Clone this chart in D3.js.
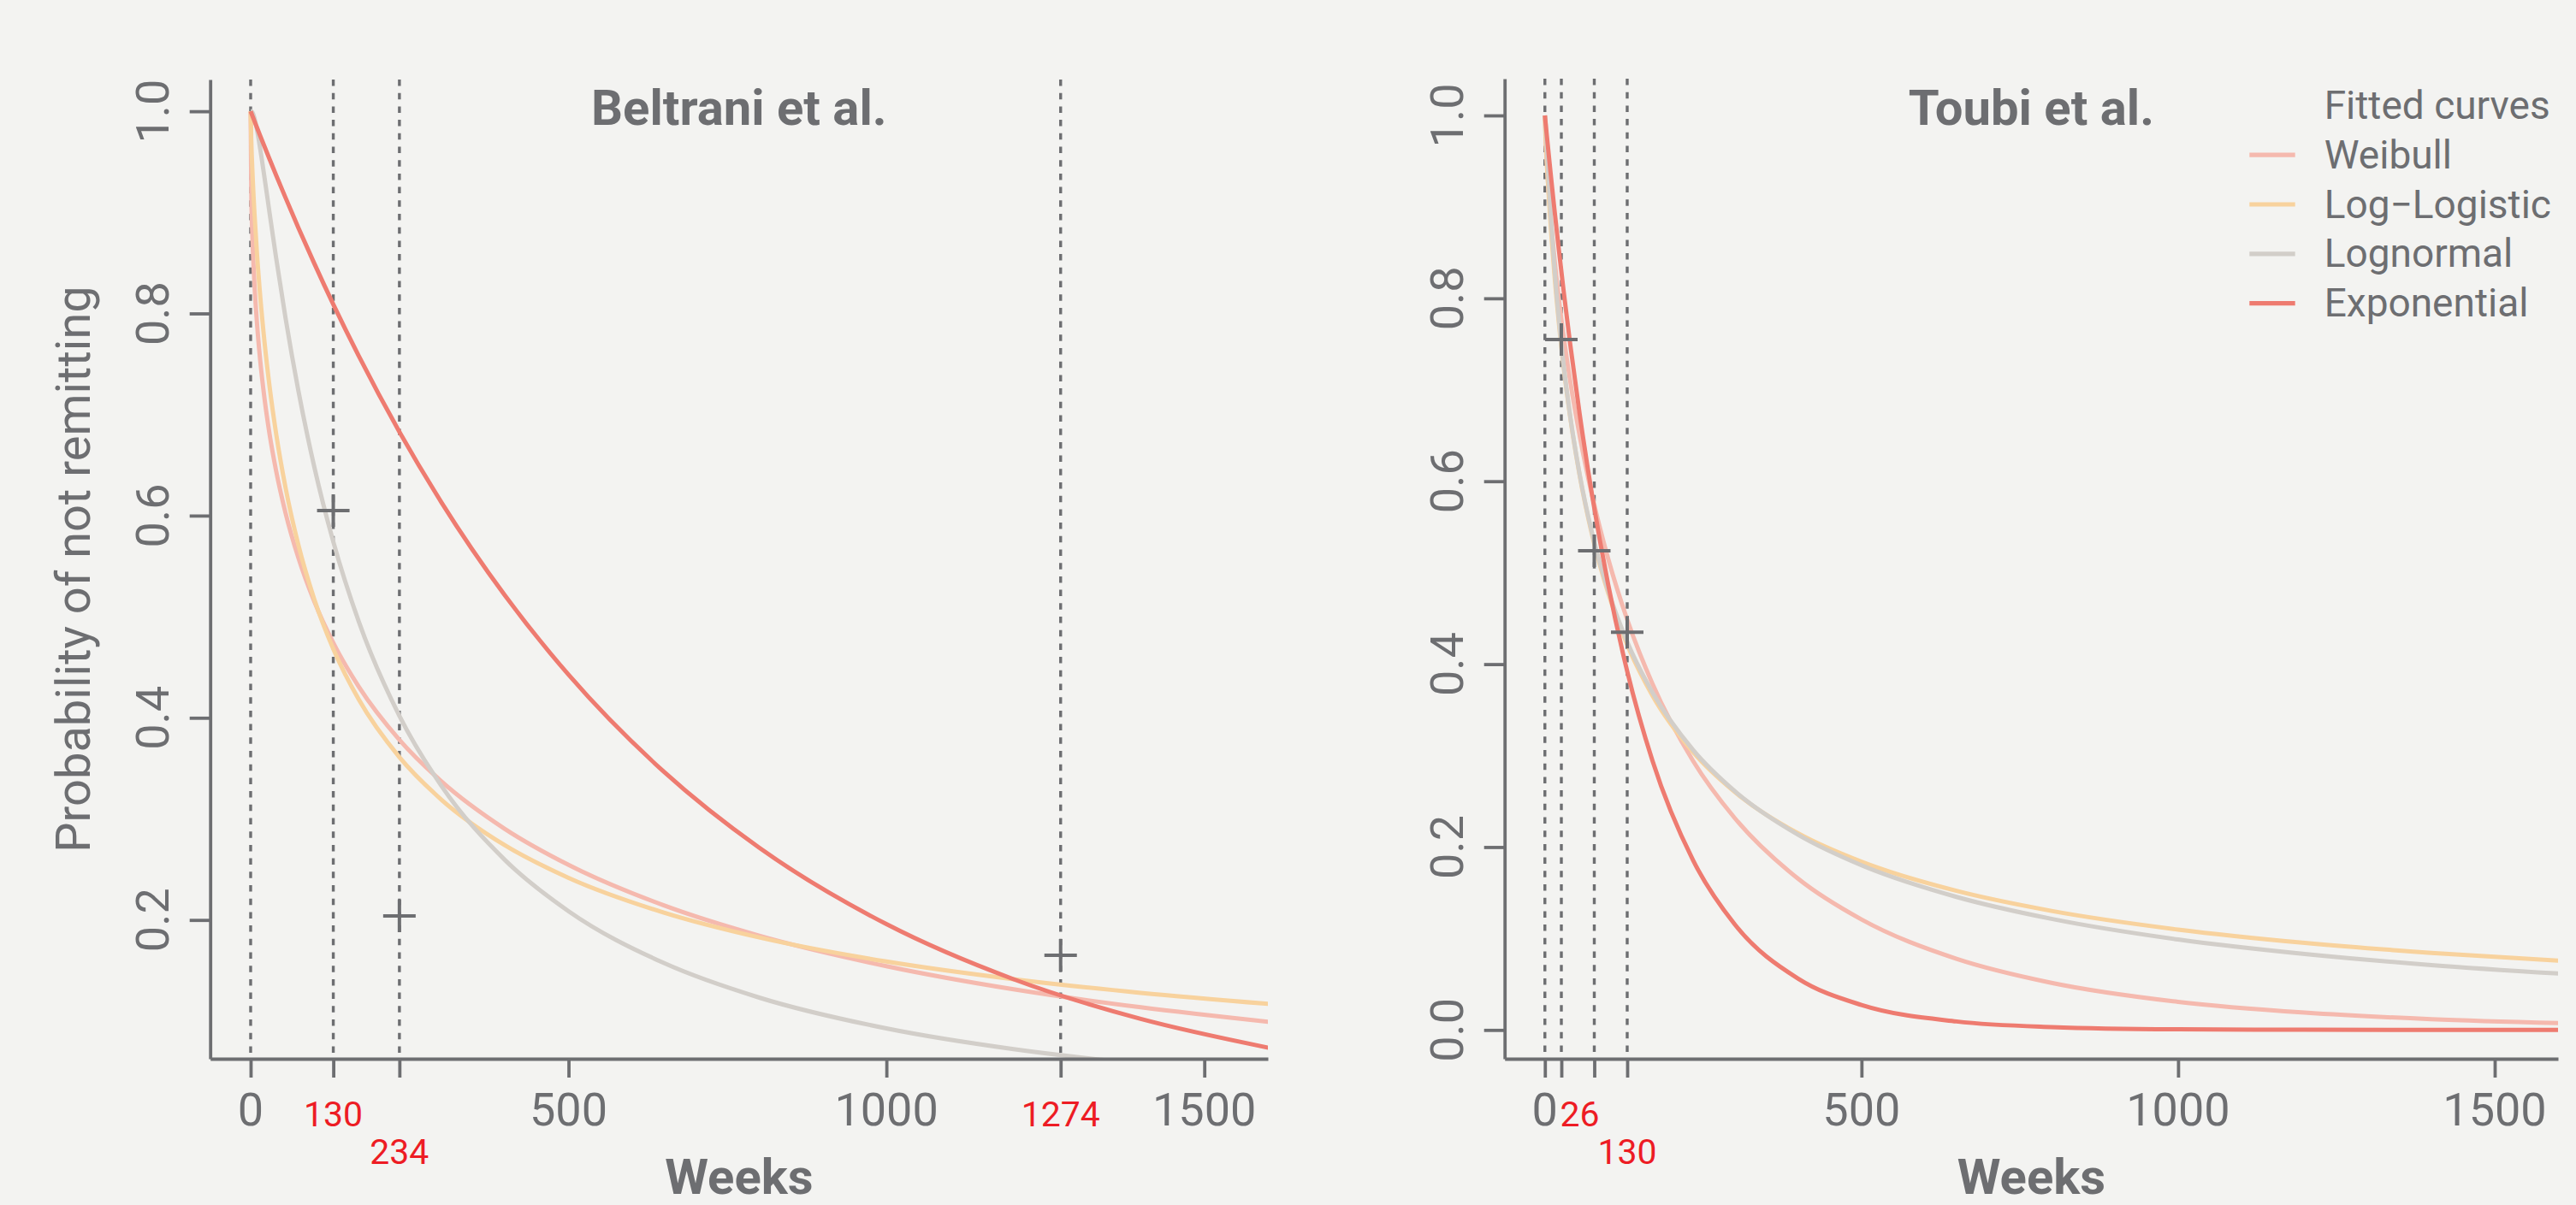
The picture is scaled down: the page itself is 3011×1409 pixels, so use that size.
<!DOCTYPE html>
<html>
<head>
<meta charset="utf-8">
<script src="https://cdn.jsdelivr.net/npm/d3@7/dist/d3.min.js"></script>
<style>
  html, body { margin: 0; padding: 0; background: #f3f3f1; }
  svg { display: block; }
  text { font-family: Roboto, "Noto Sans", sans-serif; }
</style>
</head>
<body>
<svg id="chart" width="3011" height="1409"></svg>
<script>
// ---------------- DATA ----------------
const weeks = [0, 1, 3, 6, 10, 15, 22, 30, 40, 55, 75, 100, 130, 170, 234, 300, 400, 500, 650, 800, 1000, 1200, 1400, 1601];

const seriesNames = ["Weibull", "Log\u2212Logistic", "Lognormal", "Exponential"];
const legendTitle = "Fitted curves";

// Beltrani et al.
const beltraniWeibull     = [1, 0.9199, 0.8721, 0.8294, 0.7903, 0.7539, 0.7149, 0.6798, 0.6446, 0.6024, 0.5584, 0.5152, 0.4741, 0.4308, 0.3782, 0.3371, 0.2900, 0.2545, 0.2144, 0.1844, 0.1543, 0.1314, 0.1136, 0.0992];
const beltraniLogLogistic = [1, 0.9718, 0.9378, 0.8994, 0.8589, 0.8177, 0.7706, 0.7266, 0.6815, 0.6273, 0.5712, 0.5175, 0.4681, 0.4182, 0.3610, 0.3190, 0.2738, 0.2417, 0.2073, 0.1827, 0.1589, 0.1414, 0.1279, 0.1170];
const beltraniLognormal   = [1, 0.9999, 0.9986, 0.9932, 0.9816, 0.9630, 0.9336, 0.8985, 0.8554, 0.7951, 0.7239, 0.6485, 0.5742, 0.4953, 0.4019, 0.3327, 0.2593, 0.2087, 0.1574, 0.1232, 0.0927, 0.0722, 0.0578, 0.0472];
const beltraniExponential = [1, 0.9984, 0.9951, 0.9903, 0.9838, 0.9758, 0.9648, 0.9523, 0.9369, 0.9143, 0.8849, 0.8496, 0.8090, 0.7580, 0.6829, 0.6132, 0.5210, 0.4426, 0.3466, 0.2714, 0.1959, 0.1414, 0.1021, 0.0736];
const beltraniCutoffs = [0, 130, 234, 1274];
const beltraniObservedWeeks  = [130, 234, 1274];
const beltraniObservedValues = [0.605, 0.204, 0.165];
const beltraniRedLabels = [130, 234, 1274];
const beltraniYTicks = [0.2, 0.4, 0.6, 0.8, 1.0];

// Toubi et al.
const toubiWeibull     = [1, 0.9762, 0.9483, 0.9162, 0.8813, 0.8443, 0.8001, 0.7566, 0.7096, 0.6496, 0.5831, 0.5151, 0.4487, 0.3783, 0.2942, 0.2315, 0.1653, 0.1208, 0.0778, 0.0515, 0.0307, 0.0189, 0.0118, 0.0075];
const toubiLogLogistic = [1, 0.9805, 0.9508, 0.9136, 0.8714, 0.8264, 0.7734, 0.7227, 0.6699, 0.6060, 0.5400, 0.4776, 0.4212, 0.3655, 0.3038, 0.2601, 0.2149, 0.1839, 0.1521, 0.1302, 0.1098, 0.0952, 0.0843, 0.0757];
const toubiLognormal   = [1, 0.9924, 0.9668, 0.9283, 0.8827, 0.8341, 0.7777, 0.7250, 0.6711, 0.6071, 0.5419, 0.4802, 0.4244, 0.3689, 0.3062, 0.2610, 0.2134, 0.1801, 0.1455, 0.1215, 0.0989, 0.0830, 0.0710, 0.0617];
const toubiExponential = [1, 0.9928, 0.9786, 0.9577, 0.9305, 0.8976, 0.8535, 0.8057, 0.7498, 0.6730, 0.5827, 0.4868, 0.3922, 0.2941, 0.1855, 0.1153, 0.0561, 0.0273, 0.0093, 0.0032, 0.0007, 0.0002, 0.0000, 0.0000];
const toubiCutoffs = [0, 26, 78, 130];
const toubiObservedWeeks  = [26, 78, 130];
const toubiObservedValues = [0.755, 0.524, 0.435];
const toubiRedLabels = [26, 130];
const toubiYTicks = [0.0, 0.2, 0.4, 0.6, 0.8, 1.0];

const grayTicks = [0, 500, 1000, 1500];
const xTitle = "Weeks";
const yTitle = "Probability of not remitting";

// ---------------- STYLE ----------------
const C_TEXT = "#6d6e71";
const C_RED = "#ed1c24";
const seriesColors = ["#f5b9ae", "#f8d29d", "#d2cec9", "#ee7b70"];

const svg = d3.select("#chart");
svg.append("rect").attr("width", 3011).attr("height", 1409).attr("fill", "#f3f3f1");

const BOTTOM = 1238;
const weekDomain = [-63.6, 1600];

function drawPanel(cfg, idx) {
  const x = d3.scaleLinear().domain(weekDomain).range(cfg.xRange);
  const y = d3.scaleLinear().domain(cfg.yDomain).range([BOTTOM, cfg.yTop]);
  const g = svg.append("g");
  const [x0, x1] = cfg.xRange;

  const clipId = "clip" + idx;
  svg.append("clipPath").attr("id", clipId)
    .append("rect").attr("x", x0).attr("y", cfg.yTop).attr("width", x1 - x0).attr("height", BOTTOM - cfg.yTop);

  // dashed cut-off lines
  g.selectAll(".cut").data(cfg.cutoffs).join("line")
    .attr("x1", d => x(d)).attr("x2", d => x(d))
    .attr("y1", cfg.yTop).attr("y2", BOTTOM)
    .attr("stroke", C_TEXT).attr("stroke-width", 3.4)
    .attr("stroke-dasharray", "7.5,8.2");

  // fitted curves
  const line = d3.line()
    .x((d, i) => x(weeks[i]))
    .y(d => y(d))
    .curve(d3.curveMonotoneX);
  const cg = g.append("g").attr("clip-path", `url(#${clipId})`);
  cfg.series.forEach((s, i) => {
    cg.append("path").attr("d", line(s))
      .attr("fill", "none").attr("stroke", seriesColors[i])
      .attr("stroke-width", 5).attr("stroke-linejoin", "round");
  });

  // axes
  const allTicks = Array.from(new Set([...grayTicks, ...cfg.cutoffs])).sort((a, b) => a - b);
  const xa = g.append("g").attr("transform", `translate(0,${BOTTOM})`)
    .call(d3.axisBottom(x).tickValues(allTicks).tickSize(22).tickSizeOuter(0).tickFormat(""));
  const ya = g.append("g").attr("transform", `translate(${x0},0)`)
    .call(d3.axisLeft(y).tickValues(cfg.yTicks).tickSize(24).tickSizeOuter(0).tickFormat(""));
  [xa, ya].forEach(a => {
    a.selectAll("path.domain").attr("stroke", C_TEXT).attr("stroke-width", 3.8);
    a.selectAll(".tick line").attr("stroke", C_TEXT).attr("stroke-width", 3.8);
  });

  // gray x tick labels
  g.selectAll(".gl").data(grayTicks).join("text")
    .attr("x", d => x(d)).attr("y", BOTTOM + 78)
    .attr("text-anchor", "middle").attr("font-size", 54).attr("fill", C_TEXT)
    .text(d => d);

  // red cut-off labels, staggered when close to the previous one
  let prev = null, row = 0;
  cfg.redLabels.forEach(v => {
    const px = x(v);
    if (prev !== null && Math.abs(px - x(prev)) < 110) row = 1 - row; else row = 0;
    const nearZero = Math.abs(px - x(0)) < 40;
    g.append("text")
      .attr("x", nearZero ? px - 1.5 : px)
      .attr("y", BOTTOM + 79 + row * 43.7)
      .attr("text-anchor", nearZero ? "start" : "middle")
      .attr("font-size", 41).attr("fill", C_RED)
      .text(v);
    prev = v;
  });

  // y tick labels (rotated)
  g.selectAll(".yl").data(cfg.yTicks).join("text")
    .attr("transform", d => `translate(${x0 - 49},${y(d)}) rotate(-90)`)
    .attr("text-anchor", "middle").attr("font-size", 54).attr("fill", C_TEXT)
    .text(d => d3.format(".1f")(d));

  // observed points (+)
  const sz = 19;
  cfg.obsWeeks.forEach((w, i) => {
    const cx = x(w), cy = y(cfg.obsValues[i]);
    g.append("path")
      .attr("d", `M${cx - sz},${cy}H${cx + sz}M${cx},${cy - sz}V${cy + sz}`)
      .attr("stroke", C_TEXT).attr("stroke-width", 4).attr("fill", "none");
  });

  // panel title
  g.append("text").attr("x", (x0 + x1) / 2).attr("y", 146)
    .attr("text-anchor", "middle").attr("font-size", 58).attr("font-weight", "bold")
    .attr("fill", C_TEXT).text(cfg.title);

  // x title
  g.append("text").attr("x", (x0 + x1) / 2).attr("y", 1396)
    .attr("text-anchor", "middle").attr("font-size", 58).attr("font-weight", "bold")
    .attr("fill", C_TEXT).text(xTitle);
}

drawPanel({
  title: "Beltrani et al.",
  xRange: [245.7, 1482],
  yDomain: [0.0627, 1.0314], yTop: 93,
  series: [beltraniWeibull, beltraniLogLogistic, beltraniLognormal, beltraniExponential],
  cutoffs: beltraniCutoffs, redLabels: beltraniRedLabels,
  obsWeeks: beltraniObservedWeeks, obsValues: beltraniObservedValues,
  yTicks: beltraniYTicks
}, 0);

drawPanel({
  title: "Toubi et al.",
  xRange: [1758.7, 2990],
  yDomain: [-0.0315, 1.0402], yTop: 92,
  series: [toubiWeibull, toubiLogLogistic, toubiLognormal, toubiExponential],
  cutoffs: toubiCutoffs, redLabels: toubiRedLabels,
  obsWeeks: toubiObservedWeeks, obsValues: toubiObservedValues,
  yTicks: toubiYTicks
}, 1);

// y axis title
svg.append("text")
  .attr("transform", "translate(104.6,665.5) rotate(-90)")
  .attr("text-anchor", "middle").attr("font-size", 56).attr("fill", C_TEXT)
  .text(yTitle);

// legend
const lg = svg.append("g");
lg.append("text").attr("x", 2716.7).attr("y", 139.3)
  .attr("font-size", 46).attr("fill", C_TEXT).text(legendTitle);
seriesNames.forEach((n, i) => {
  const by = 196.7 + i * 57.8;
  lg.append("line").attr("x1", 2629.3).attr("x2", 2682.7)
    .attr("y1", by - 15.5).attr("y2", by - 15.5)
    .attr("stroke", seriesColors[i]).attr("stroke-width", 5.2);
  lg.append("text").attr("x", 2716.7).attr("y", by)
    .attr("font-size", 46).attr("fill", C_TEXT).text(n);
});
</script>
</body>
</html>
